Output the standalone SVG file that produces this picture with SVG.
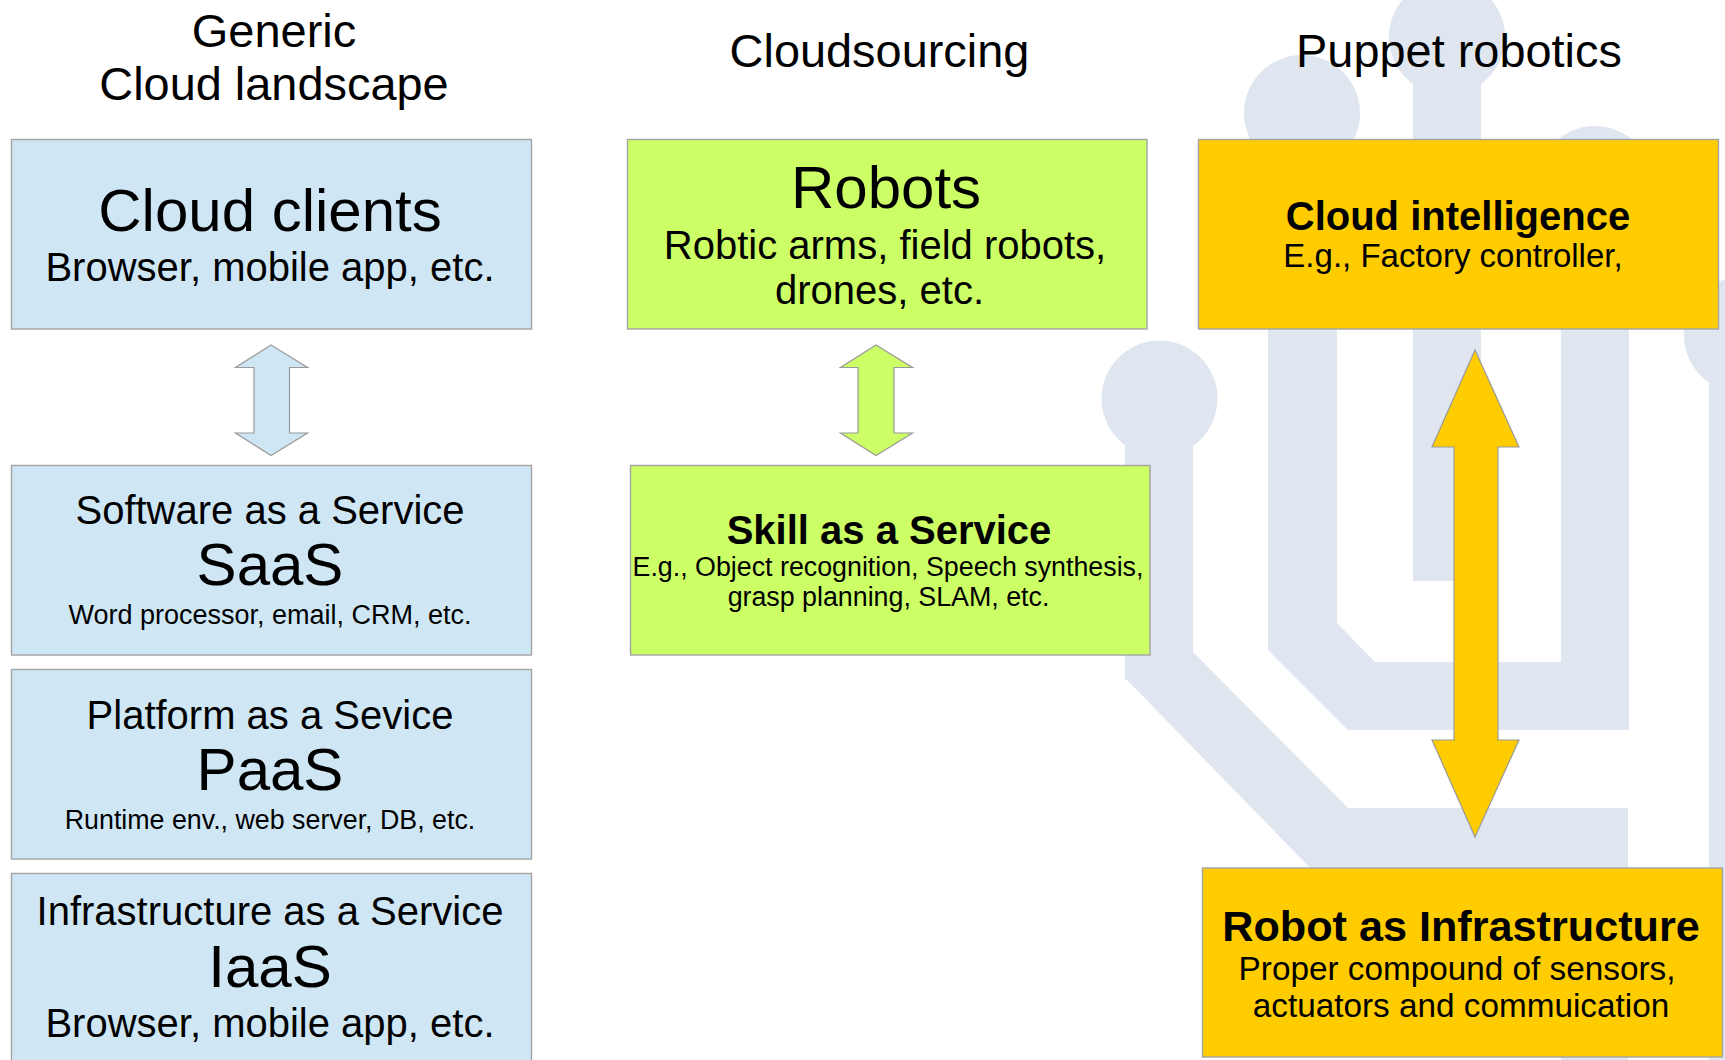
<svg xmlns="http://www.w3.org/2000/svg" width="1725" height="1060" viewBox="0 0 1725 1060">
<style>
text{font-family:"Liberation Sans",Arial,sans-serif;fill:#000;text-anchor:middle}
.b{font-weight:bold}
.box{stroke:#a3a3a3;stroke-width:1.4}
.blue{fill:#cfe7f5}.green{fill:#ccff66}.orange{fill:#ffcc00}
.bg{fill:#e0e6f0}
.arrow{stroke:#9a9a9a;stroke-width:1.2}
</style>
<rect width="1725" height="1060" fill="#fff"/>
<g id="background">
<circle class="bg" cx="1447" cy="37" r="58"/>
<rect class="bg" x="1413" y="60" width="68" height="521"/>
<circle class="bg" cx="1302" cy="113" r="58"/>
<circle class="bg" cx="1595" cy="184" r="58"/>
<circle class="bg" cx="1159.500" cy="398.500" r="58"/>
<circle class="bg" cx="1742" cy="335" r="58"/>
<rect class="bg" x="1709" y="335" width="16" height="725"/>
<path class="bg" d="M1268 113H1337V623L1375 662H1561V183H1629V730H1348L1268 650Z"/>
<path class="bg" d="M1125 398H1193V652L1348 808H1628V1060H1561V950H1390L1127 680L1125 679Z"/>
</g>
<g id="titles">
<text x="274" y="47" font-size="47">Generic</text>
<text x="274" y="100" font-size="46.900">Cloud landscape</text>
<text x="879.500" y="67" font-size="46.900">Cloudsourcing</text>
<text x="1459" y="67" font-size="46.900">Puppet robotics</text>
</g>
<g id="connectors">
<path id="arrow-blue" class="arrow blue" d="M271 345L307.500 367.500H289.500V433H307.500L271 455.500L235.500 433H254V367.500H235.500Z"/>
<path id="arrow-green" class="arrow green" d="M876 345L912.500 367.500H894V433H912.500L876 455.500L840.500 433H858V367.500H840.500Z"/>
<path id="arrow-orange" class="arrow orange" d="M1475 350L1519 447H1498V740H1519L1475 837L1432 740H1454V447H1432Z"/>
</g>
<g id="cloud-clients">
<rect class="box blue" x="11.500" y="139.500" width="520" height="189.500"/>
<text x="270" y="231" font-size="60">Cloud clients</text>
<text x="270" y="281" font-size="40">Browser, mobile app, etc.</text>
</g>
<g id="saas">
<rect class="box blue" x="11.500" y="465.500" width="520" height="189.500"/>
<text x="270" y="524" font-size="40">Software as a Service</text>
<text x="270" y="585" font-size="60">SaaS</text>
<text x="270" y="624" font-size="27">Word processor, email, CRM, etc.</text>
</g>
<g id="paas">
<rect class="box blue" x="11.500" y="669.500" width="520" height="189.500"/>
<text x="270" y="729" font-size="40">Platform as a Sevice</text>
<text x="270" y="790" font-size="60">PaaS</text>
<text x="270" y="829" font-size="26.800">Runtime env., web server, DB, etc.</text>
</g>
<g id="iaas">
<rect class="box blue" x="11.500" y="873.500" width="520" height="192"/>
<text x="270" y="925" font-size="40">Infrastructure as a Service</text>
<text x="270" y="987" font-size="60">IaaS</text>
<text x="270" y="1037" font-size="40">Browser, mobile app, etc.</text>
</g>
<g id="robots">
<rect class="box green" x="627.500" y="139.500" width="519.500" height="189.500"/>
<text x="886" y="208" font-size="60">Robots</text>
<text x="885" y="259" font-size="40">Robtic arms, field robots,</text>
<text x="879.500" y="304" font-size="40">drones, etc.</text>
</g>
<g id="skill">
<rect class="box green" x="630.500" y="465.500" width="519.500" height="189.500"/>
<text x="889" y="544" font-size="40" class="b">Skill as a Service</text>
<text x="888" y="576" font-size="26.800">E.g., Object recognition, Speech synthesis,</text>
<text x="888.500" y="606" font-size="26.800">grasp planning, SLAM, etc.</text>
</g>
<g id="cloud-intelligence">
<rect class="box orange" x="1198.500" y="139.500" width="520" height="189.500"/>
<text x="1458" y="230" font-size="40" class="b">Cloud intelligence</text>
<text x="1453" y="267" font-size="33">E.g., Factory controller,</text>
</g>
<g id="robot-infrastructure">
<rect class="box orange" x="1202.500" y="868" width="520" height="189"/>
<text x="1461" y="941" font-size="43.200" class="b">Robot as Infrastructure</text>
<text x="1457" y="980" font-size="33.300">Proper compound of sensors,</text>
<text x="1461" y="1017" font-size="33.300">actuators and commuication</text>
</g>
</svg>
